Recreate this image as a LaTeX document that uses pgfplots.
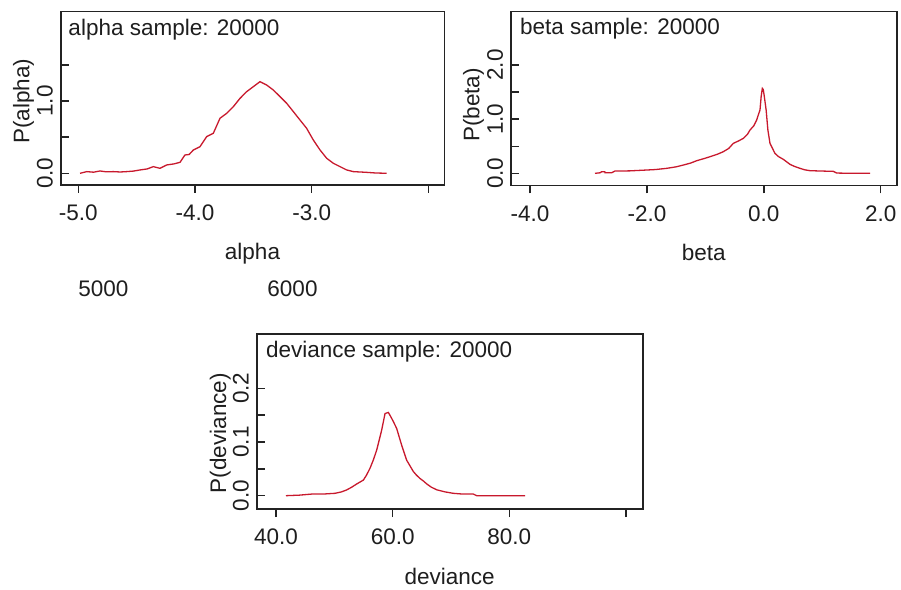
\documentclass[border=0pt]{standalone}
\usepackage{fontspec}
\setmainfont{Liberation Sans}
\usepackage{pgfplots}
\pgfplotsset{compat=1.18}
\definecolor{curve}{RGB}{200,25,45}
\definecolor{frame}{RGB}{35,35,35}
\definecolor{txt}{RGB}{30,30,30}
\pgfplotsset{
  densplot/.style={
    scale only axis, anchor=south west,
    axis line style={draw=frame, line width=1.6pt},
    xtick pos=bottom, ytick pos=left,
    xtick align=outside, ytick align=inside,
    major tick length=8pt,
    tick style={draw=frame, line width=1.5pt},
    minor tick num=0,
    /pgf/number format/assume math mode=true,
    xticklabel style={inner sep=0pt, anchor=north, yshift=-12pt, text=txt},
    yticklabel style={inner sep=0pt, xshift=-7.7pt, rotate=90, anchor=south, text=txt},
    every axis x label/.style={at={(axis description cs:0.5,0)}, anchor=base, yshift=-75pt, inner sep=0pt, text=txt},
    every axis y label/.style={anchor=base, rotate=90, inner sep=0pt, text=txt},
    clip=false,
  },
  curveplot/.style={draw=curve, line width=1.3pt, mark=none},
}
\begin{document}
\fontsize{22.5}{27}\selectfont
\begin{tikzpicture}
\path[use as bounding box, fill=white] (0pt,0pt) rectangle (901pt,589pt);

% alpha
\begin{axis}[densplot,
  at={(60.7pt,404pt)}, width=383.6pt, height=173.3pt,
  xmin=-5.151, xmax=-1.863, ymin=-0.162, ymax=2.235,
  xtick={-5,-4,-3,-2}, xticklabels={-5.0,-4.0,-3.0,{}},
  ytick={0,0.5,1,1.5}, yticklabels={0.0,{},1.0,{}},
  xlabel={alpha}, ylabel={P(alpha)},
  ylabel style={at={(axis description cs:-0.0819,0.482)}},
]
\addplot[curveplot] coordinates {
(-4.985,0.0) (-4.928,0.023) (-4.87,0.015) (-4.814,0.032) (-4.76,0.02) (-4.700,0.023)
(-4.64,0.018) (-4.586,0.023) (-4.53,0.03) (-4.471,0.046) (-4.41,0.06) (-4.357,0.092)
(-4.300,0.069) (-4.243,0.115) (-4.18,0.13) (-4.128,0.152) (-4.086,0.253) (-4.05,0.26)
(-4.014,0.322) (-3.957,0.368) (-3.900,0.507) (-3.843,0.553) (-3.786,0.760) (-3.728,0.830)
(-3.671,0.922) (-3.614,1.037) (-3.557,1.129) (-3.500,1.198) (-3.443,1.267) (-3.41,1.24)
(-3.386,1.221) (-3.329,1.152) (-3.271,1.060) (-3.214,0.968) (-3.157,0.853) (-3.100,0.737)
(-3.043,0.622) (-2.986,0.461) (-2.928,0.322) (-2.871,0.207) (-2.814,0.138) (-2.757,0.092)
(-2.700,0.046) (-2.643,0.023) (-2.529,0.013) (-2.45,0.004) (-2.357,0.0)
};
\node[anchor=base west, inner sep=0pt, text=txt] at (axis description cs:0.0198,0.8655) {alpha sample: 20000};
\end{axis}

% beta
\begin{axis}[densplot,
  at={(511pt,403.5pt)}, width=385.7pt, height=173.8pt,
  xmin=-4.325, xmax=2.274, ymin=-0.225, ymax=2.987,
  xtick={-4,-2,0,2}, xticklabels={-4.0,-2.0,0.0,2.0},
  ytick={0,0.5,1,1.5,2}, yticklabels={0.0,{},1.0,{},2.0},
  xlabel={beta}, ylabel={P(beta)},
  ylabel style={at={(axis description cs:-0.0822,0.463)}},
]
\addplot[curveplot] coordinates {
(-2.888,0) (-2.80,0.01) (-2.774,0.03) (-2.72,0.03) (-2.717,0.012) (-2.6,0.012)
(-2.546,0.043) (-2.3,0.045) (-2.004,0.061) (-1.85,0.07) (-1.662,0.092) (-1.5,0.12)
(-1.377,0.153) (-1.25,0.19) (-1.149,0.233) (-1.03,0.27) (-0.920,0.307) (-0.80,0.35)
(-0.692,0.400) (-0.60,0.46) (-0.521,0.554) (-0.43,0.60) (-0.350,0.646) (-0.28,0.72)
(-0.236,0.800) (-0.17,0.88) (-0.122,0.985) (-0.094,1.08) (-0.065,1.17) (-0.045,1.42)
(-0.025,1.57) (-0.010,1.55) (0.005,1.45) (0.04,1.17) (0.07,0.80) (0.106,0.554)
(0.135,0.49) (0.19,0.37) (0.25,0.31) (0.334,0.258) (0.448,0.166) (0.52,0.13)
(0.619,0.092) (0.70,0.065) (0.790,0.049) (0.9,0.045) (1.19,0.036) (1.247,0.005)
(1.5,0.0) (1.817,0)
};
\node[anchor=base west, inner sep=0pt, text=txt] at (axis description cs:0.0233,0.866) {beta sample: 20000};
\end{axis}

% deviance
\begin{axis}[densplot,
  at={(256.7pt,80pt)}, width=386pt, height=175pt,
  xmin=36.69, xmax=102.86, ymin=-0.0248, ymax=0.3011,
  xtick={40,60,80,100}, xticklabels={40.0,60.0,80.0,{}},
  ytick={0,0.05,0.1,0.15,0.2}, yticklabels={0.0,{},0.1,{},0.2},
  xlabel={deviance}, ylabel={P(deviance)},
  ylabel style={at={(axis description cs:-0.0795,0.433)}},
]
\addplot[curveplot] coordinates {
(41.71,0) (44.0,0.001) (46.11,0.003) (48.0,0.003) (50.11,0.0044) (51.2,0.007)
(52.11,0.0107) (53.0,0.016) (53.83,0.0218) (54.97,0.029) (55.5,0.038) (56.11,0.051)
(56.7,0.067) (57.26,0.085) (57.7,0.104) (58.11,0.122) (58.69,0.153) (59.26,0.155)
(59.83,0.144) (60.25,0.135) (60.69,0.125) (61.1,0.11) (61.54,0.094) (62.0,0.079)
(62.40,0.066) (63.0,0.055) (63.54,0.045) (64.1,0.038) (64.69,0.032) (65.3,0.027)
(65.83,0.022) (66.6,0.016) (67.54,0.011) (69.0,0.007) (70.40,0.0044) (72.0,0.003)
(73.83,0.003) (74.40,0) (78.0,0) (82.69,0)
};
\node[anchor=base west, inner sep=0pt, text=txt] at (axis description cs:0.024,0.867) {deviance sample: 20000};
\end{axis}

\node[anchor=base, inner sep=0pt, text=txt] at (103.3pt,292.3pt) {5000};
\node[anchor=base, inner sep=0pt, text=txt] at (292.5pt,292.3pt) {6000};
\end{tikzpicture}
\end{document}
